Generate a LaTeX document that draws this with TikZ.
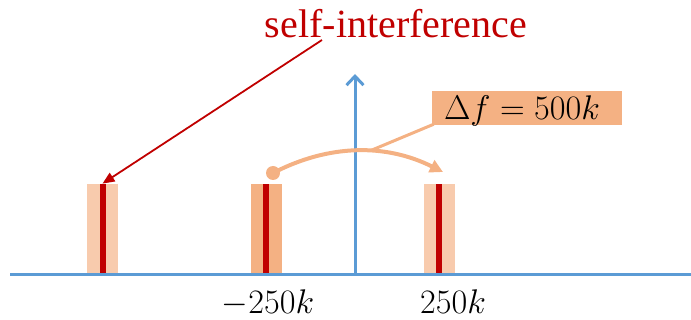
\documentclass[tikz,border=0pt]{standalone}
\usepackage{graphicx}
\usepackage{fontspec}
\setmainfont{Liberation Serif}
\usetikzlibrary{arrows.meta}
\definecolor{axisblue}{RGB}{91,155,213}
\definecolor{darkred}{RGB}{192,0,0}
\definecolor{lightpeach}{RGB}{248,203,173}
\definecolor{peach}{RGB}{244,177,131}
\newcommand{\bigmath}[1]{\scalebox{1.65}{\fontsize{20.74}{20.74}\selectfont$#1$}}
\tikzset{
  barbox/.style={draw=none,fill=#1,minimum width=31pt,minimum height=91pt,inner sep=0pt,anchor=south},
  stripe/.style={draw=none,fill=darkred,minimum width=6pt,minimum height=91pt,inner sep=0pt,anchor=south},
  mathlbl/.style={anchor=base,inner sep=0pt},
}
\begin{document}
\begin{tikzpicture}[x=1pt,y=-1pt]
\useasboundingbox (0,0) rectangle (691,320);
% bars
\node[barbox=lightpeach] (b1) at (102.5,275) {};
\node[stripe] (s1) at (103,275) {};
\node[barbox=peach] (b2) at (266,275) {};
\node[stripe] (s2) at (266,275) {};
\node[barbox=lightpeach] (b3) at (439,275) {};
\node[stripe] (s3) at (439,275) {};
% axes
\coordinate (xl) at (10,275);
\coordinate (xr) at (691,275);
\coordinate (yb) at (355,275);
\coordinate (yt) at (355,74);
\draw[axisblue,line width=3pt] (xl) -- (xr);
\draw[axisblue,line width=3pt,-{Straight Barb[length=9pt,width=17pt,line width=3pt]}] (yb) -- (yt);
% title
\node[anchor=base,inner sep=0pt,text=darkred,font=\fontsize{40}{40}\selectfont] (title) at (396,38) {self-interference};
\coordinate (ra) at (322,40);
\draw[darkred,line width=1.8pt,-{Triangle[length=12pt,width=10pt]}] (ra) -- (b1.north);
% shift arc
\coordinate (c0) at (273,173);
\coordinate (c1) at (443,172);
\fill[peach] (c0) circle (7pt);
\draw[peach,line width=4pt,-{Triangle[length=13pt,width=13pt]}] (c0) .. controls (329.7,143.7) and (386.3,143.7) .. (c1);
% label box
\node[fill=peach,minimum width=190pt,minimum height=34pt,inner sep=0pt] (lbl) at (527,108) {};
\node[mathlbl] (lbltext) at (522,120) {\bigmath{\Delta f = 500k}};
\coordinate (lp) at (372,150);
\draw[peach,line width=3pt] (lbl.south west) ++(2,-1) coordinate (lq) -- (lp);
% tick labels
\node[mathlbl] (m250) at (268,314) {\bigmath{-250k}};
\node[mathlbl] (p250) at (453,314) {\bigmath{250k}};
\end{tikzpicture}
\end{document}
